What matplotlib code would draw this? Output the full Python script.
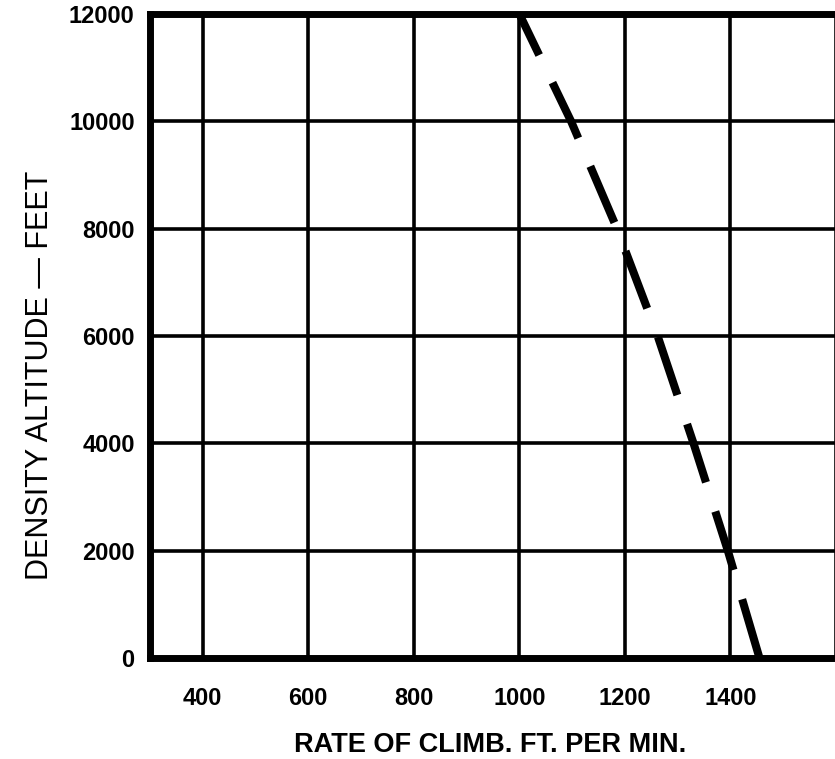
import matplotlib.pyplot as plt

# data
altitude = [0, 2000, 4000, 6000, 8000, 10000, 12000]
rate_of_climb = [1455, 1395, 1330, 1262, 1185, 1098, 1000]

x_grid = [400, 600, 800, 1000, 1200, 1400, 1600]
x_labels = ["400", "600", "800", "1000", "1200", "1400", ""]
y_ticks = [0, 2000, 4000, 6000, 8000, 10000, 12000]
y_labels = ["0", "2000", "4000", "6000", "8000", "10000", "12000"]

W, H = 835, 759
fig = plt.figure(figsize=(W / 100, H / 100), dpi=100)
ax = fig.add_axes([150 / W, 101 / H, 686 / W, 644 / H])

ax.set_xlim(300, 1600)
ax.set_ylim(0, 12000)

ax.set_xticks(x_grid)
ax.set_xticklabels(x_labels)
ax.set_yticks(y_ticks)
ax.set_yticklabels(y_labels)
ax.tick_params(length=0, labelsize=17)
ax.tick_params(axis="x", pad=21)
ax.tick_params(axis="y", pad=11)
for lab in ax.get_xticklabels() + ax.get_yticklabels():
    lab.set_fontfamily("Liberation Sans")
    lab.set_fontweight("bold")

ax.grid(True, color="black", linewidth=2.6)
ax.set_axisbelow(True)

for side in ["left", "bottom", "top"]:
    ax.spines[side].set_linewidth(5)
ax.spines["right"].set_visible(False)

# dashed curve, drawn from the ground up
ax.plot(rate_of_climb, altitude, color="black", linewidth=5.8,
        dashes=(7.6, 3.8), dash_capstyle="butt", zorder=5)

fig.text(40 / W, 1 - 375 / H, "DENSITY ALTITUDE — FEET", rotation=90,
         ha="center", va="center", fontsize=22, family="Liberation Sans")
fig.text(490 / W, 1 - 745 / H, "RATE OF CLIMB. FT. PER MIN.",
         ha="center", va="center", fontsize=19.5, fontweight="bold",
         family="Liberation Sans")

fig.savefig("out.png", dpi=100)
